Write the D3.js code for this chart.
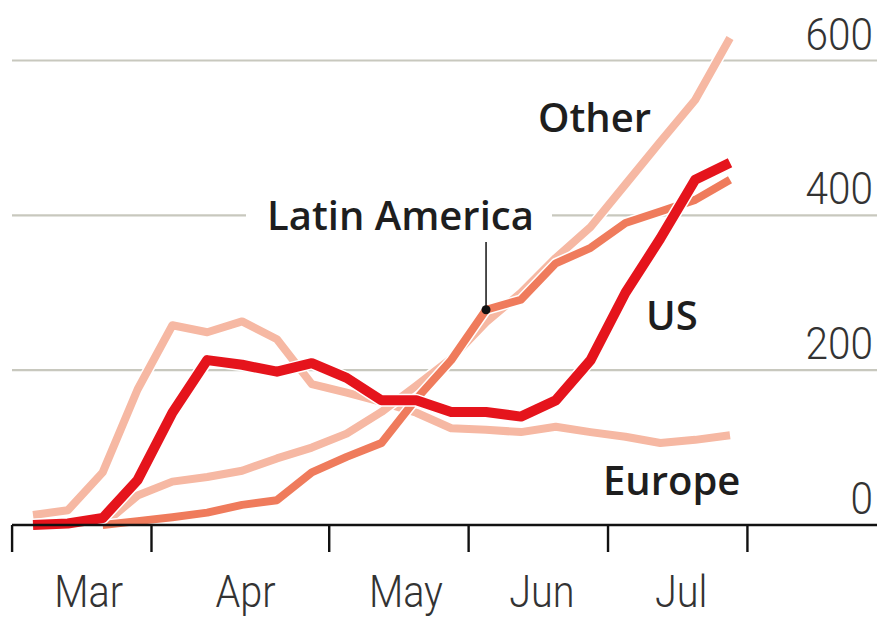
<!DOCTYPE html>
<html>
<head>
<meta charset="utf-8">
<script src="https://cdn.jsdelivr.net/npm/d3@7"></script>
<style>
  html, body { margin: 0; padding: 0; background: #ffffff; }
  svg { display: block; }
</style>
</head>
<body>
<svg id="chart" width="877" height="618"></svg>
<script>
// ---- data (weekly observations, index 0..20) ----
const weeks = [0,1,2,3,4,5,6,7,8,9,10,11,12,13,14,15,16,17,18,19,20];
const usValues     = [0, 2, 9, 58, 145, 213, 207, 198, 209, 190, 161, 161, 146, 146, 140, 161, 213, 300, 370, 446, 468];
const europeValues = [13, 19, 68, 175, 258, 249, 263, 240, 182, 171, 159, 145, 125, 123, 120, 127, 120, 114, 106, 110, 116];
const latamValues  = [null, null, 0, 5, 10, 16, 26, 32, 68, 88, 106, 163, 213, 278, 291, 338, 358, 390, 405, 420, 446];
const otherValues  = [null, null, 0, 38, 56, 62, 70, 86, 100, 118, 146, 180, 215, 262, 300, 345, 385, 440, 495, 549, 629];
const yTicks = [0, 200, 400, 600];
const monthTickWeeks = [-0.6, 3.4, 8.5, 12.5, 16.5, 20.5];
const monthLabels = ["Mar", "Apr", "May", "Jun", "Jul"];
const monthLabelWeeks = [1.6, 6.1, 10.7, 14.6, 18.6];

const series = [
  { name: "Europe", values: europeValues, color: "#f6b8a3", width: 8 },
  { name: "Other", values: otherValues, color: "#f6b8a3", width: 8 },
  { name: "Latin America", values: latamValues, color: "#ef7b5c", width: 8 },
  { name: "US", values: usValues, color: "#e5141c", width: 10 }
];

// ---- layout ----
const svg = d3.select("#chart");
const x = d3.scaleLinear().domain([0, 20]).range([33, 730]);
const y = d3.scaleLinear().domain([0, 600]).range([525, 60.5]);
const left = 12, right = 877;
const tickFont = "Roboto, 'Open Sans', sans-serif";

// gridlines
svg.append("g").selectAll("line")
  .data(yTicks.filter(d => d > 0))
  .join("line")
  .attr("x1", left).attr("x2", right)
  .attr("y1", d => y(d)).attr("y2", d => y(d))
  .attr("stroke", "#c8c8be").attr("stroke-width", 2.2);

// gap in 400 gridline for label
svg.append("rect")
  .attr("x", 246).attr("y", y(400) - 4).attr("width", 306).attr("height", 8)
  .attr("fill", "#ffffff");

// y tick labels (condensed)
svg.append("g").selectAll("text")
  .data(yTicks)
  .join("text")
  .attr("transform", d => `translate(873,${y(d) - 11}) scale(0.9,1)`)
  .attr("text-anchor", "end")
  .attr("font-family", tickFont)
  .attr("font-weight", 300)
  .attr("font-size", 45)
  .attr("fill", "#333")
  .text(d => d);

// lines
const line = d3.line()
  .defined(d => d.v !== null)
  .x(d => x(d.w))
  .y(d => y(d.v))
  .curve(d3.curveLinear);

series.forEach(s => {
  const pts = weeks.map((w, i) => ({ w, v: s.values[i] }));
  svg.append("path")
    .attr("d", line(pts))
    .attr("fill", "none")
    .attr("stroke", "#ffffff")
    .attr("stroke-width", s.width + 3)
    .attr("stroke-linejoin", "round");
  svg.append("path")
    .attr("d", line(pts))
    .attr("fill", "none")
    .attr("stroke", s.color)
    .attr("stroke-width", s.width)
    .attr("stroke-linejoin", "round");
});

// x axis baseline and ticks
svg.append("line")
  .attr("x1", left).attr("x2", right)
  .attr("y1", y(0)).attr("y2", y(0))
  .attr("stroke", "#111").attr("stroke-width", 2.6);

svg.append("g").selectAll("line")
  .data(monthTickWeeks)
  .join("line")
  .attr("x1", d => x(d)).attr("x2", d => x(d))
  .attr("y1", y(0)).attr("y2", y(0) + 27)
  .attr("stroke", "#111").attr("stroke-width", 2.4);

svg.append("g").selectAll("text")
  .data(monthLabels)
  .join("text")
  .attr("transform", (d, i) => `translate(${x(monthLabelWeeks[i])},607) scale(0.88,1)`)
  .attr("text-anchor", "middle")
  .attr("font-family", tickFont)
  .attr("font-weight", 300)
  .attr("font-size", 45)
  .attr("fill", "#333")
  .text(d => d);

// Latin America leader
const laIdx = 13;
svg.append("line")
  .attr("x1", x(weeks[laIdx])).attr("x2", x(weeks[laIdx]))
  .attr("y1", 242).attr("y2", y(latamValues[laIdx]))
  .attr("stroke", "#222").attr("stroke-width", 1.6);
svg.append("circle")
  .attr("cx", x(weeks[laIdx])).attr("cy", y(latamValues[laIdx]))
  .attr("r", 4.5).attr("fill", "#111");

// series labels
const labels = [
  { text: "Other", x: 538, y: 132 },
  { text: "Latin America", x: 267, y: 230 },
  { text: "US", x: 646, y: 330 },
  { text: "Europe", x: 603, y: 495 }
];
svg.append("g").selectAll("text")
  .data(labels)
  .join("text")
  .attr("x", d => d.x).attr("y", d => d.y)
  .attr("text-anchor", "start")
  .attr("font-family", "'Open Sans', sans-serif")
  .attr("font-weight", 600)
  .attr("font-size", 40)
  .attr("fill", "#1e1e1e")
  .text(d => d.text);
</script>
</body>
</html>
